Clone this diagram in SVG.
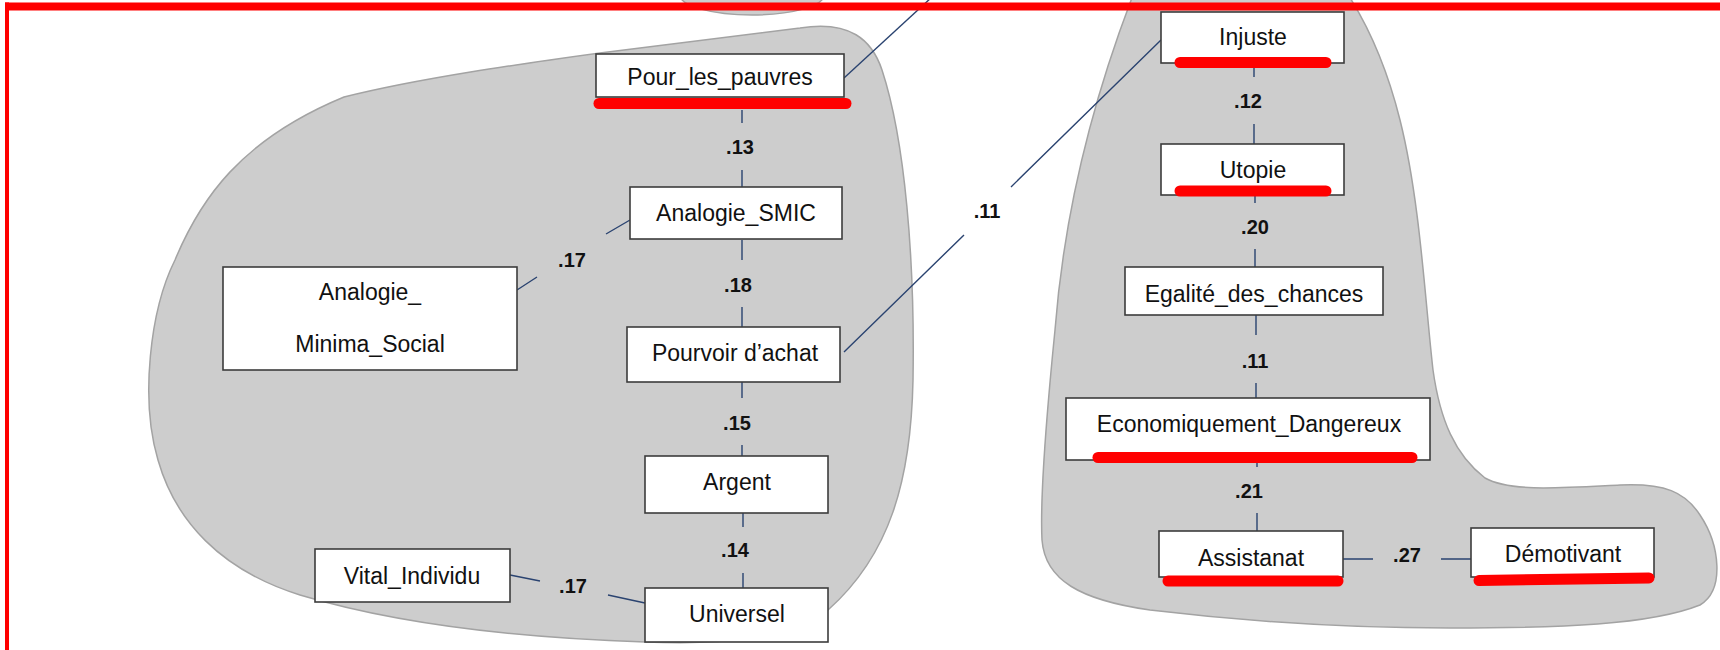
<svg xmlns="http://www.w3.org/2000/svg" width="1720" height="650" viewBox="0 0 1720 650">
<style>
.blob{fill:#cdcdcd;stroke:#a3a3a3;stroke-width:1.5}
.box{fill:#ffffff;stroke:#3c3c3c;stroke-width:1.6}
.t{font-family:"Liberation Sans",Arial,sans-serif;font-size:23px;fill:#111;text-anchor:middle}
.lbl{font-family:"Liberation Sans",Arial,sans-serif;font-size:20px;font-weight:bold;fill:#111;text-anchor:middle}
.c{stroke:#2a4370;stroke-width:1.4;fill:none}
.ul{stroke:#ff0000;stroke-width:11;stroke-linecap:round;fill:none}
.frame{fill:#ff0000}
</style>
<rect width="1720" height="650" fill="#ffffff"/>
<g id="clusters">
<ellipse class="blob" cx="752" cy="-5" rx="72" ry="20"/>
<path class="blob" d="M 344,97 C 420,78 520,64 600,53 L 800,28 C 850,20 872,40 882,70 C 905,140 915,260 913,380 C 911,480 890,555 828,610 C 790,640 720,645 645,642 C 520,638 400,625 300,595 C 220,570 175,520 158,460 C 140,400 150,310 175,260 C 200,200 240,140 344,97 Z"/>
<path class="blob" d="M 1135,-10 C 1100,80 1065,200 1055,330 C 1045,430 1040,500 1042,540 C 1045,580 1080,600 1150,610 C 1250,622 1350,628 1450,628 C 1560,628 1650,625 1700,605 C 1725,590 1720,545 1700,515 C 1685,492 1665,483 1620,485 C 1560,488 1510,492 1485,478 C 1455,455 1440,420 1433,370 C 1425,300 1420,200 1400,120 C 1385,60 1365,20 1345,-10 Z"/>
</g>
<g id="connectors">
<path class="c" d="M 844,78 L 932,-3"/>
<path class="c" d="M 742,110 V 123 M 742,170 V 187"/>
<text class="lbl" x="740" y="154">.13</text>
<path class="c" d="M 630,220 L 606,234 M 537,277 L 517,290"/>
<text class="lbl" x="572" y="267">.17</text>
<path class="c" d="M 742,240 V 260 M 742,307 V 327"/>
<text class="lbl" x="738" y="292">.18</text>
<path class="c" d="M 844,352 L 964,235 M 1011,187 L 1161,40"/>
<text class="lbl" x="987" y="218">.11</text>
<path class="c" d="M 742,382 V 398 M 742,445 V 456"/>
<text class="lbl" x="737" y="430">.15</text>
<path class="c" d="M 743,513 V 527 M 743,573 V 588"/>
<text class="lbl" x="735" y="557">.14</text>
<path class="c" d="M 510,575 L 540,581 M 608,595 L 645,603"/>
<text class="lbl" x="573" y="593">.17</text>
<path class="c" d="M 1254,63 V 77 M 1254,124 V 144"/>
<text class="lbl" x="1248" y="108">.12</text>
<path class="c" d="M 1255,195 V 203 M 1255,249 V 267"/>
<text class="lbl" x="1255" y="234">.20</text>
<path class="c" d="M 1256,315 V 335 M 1256,383 V 398"/>
<text class="lbl" x="1255" y="368">.11</text>
<path class="c" d="M 1257,460 V 467 M 1257,513 V 531"/>
<text class="lbl" x="1249" y="498">.21</text>
<path class="c" d="M 1343,559 H 1373 M 1441,559 H 1471"/>
<text class="lbl" x="1407" y="562">.27</text>
</g>
<g id="node-pour-les-pauvres"><rect class="box" x="596" y="54" width="248" height="43"/><text class="t" x="720" y="85">Pour_les_pauvres</text></g>
<g id="node-analogie-smic"><rect class="box" x="630" y="187" width="212" height="52"/><text class="t" x="736" y="221">Analogie_SMIC</text></g>
<g id="node-analogie-minima"><rect class="box" x="223" y="267" width="294" height="103"/><text class="t" x="370" y="300">Analogie_</text><text class="t" x="370" y="352">Minima_Social</text></g>
<g id="node-pourvoir"><rect class="box" x="627" y="327" width="213" height="55"/><text class="t" x="735" y="361">Pourvoir d’achat</text></g>
<g id="node-argent"><rect class="box" x="645" y="456" width="183" height="57"/><text class="t" x="737" y="490">Argent</text></g>
<g id="node-universel"><rect class="box" x="645" y="588" width="183" height="54"/><text class="t" x="737" y="622">Universel</text></g>
<g id="node-vital"><rect class="box" x="315" y="549" width="195" height="53"/><text class="t" x="412" y="584">Vital_Individu</text></g>
<g id="node-injuste"><rect class="box" x="1161" y="12" width="183" height="51"/><text class="t" x="1253" y="45">Injuste</text></g>
<g id="node-utopie"><rect class="box" x="1161" y="144" width="183" height="51"/><text class="t" x="1253" y="178">Utopie</text></g>
<g id="node-egalite"><rect class="box" x="1125" y="267" width="258" height="48"/><text class="t" x="1254" y="302">Egalité_des_chances</text></g>
<g id="node-economiquement"><rect class="box" x="1066" y="398" width="364" height="62"/><text class="t" x="1249" y="432">Economiquement_Dangereux</text></g>
<g id="node-assistanat"><rect class="box" x="1159" y="531" width="184" height="46"/><text class="t" x="1251" y="566">Assistanat</text></g>
<g id="node-demotivant"><rect class="box" x="1471" y="528" width="183" height="49"/><text class="t" x="1563" y="562">Démotivant</text></g>
<g id="annotations">
<path class="ul" d="M 599,103.5 H 846"/>
<path class="ul" d="M 1180,62.5 H 1326"/>
<path class="ul" d="M 1180,191 H 1326"/>
<path class="ul" d="M 1098,457.5 H 1412"/>
<path class="ul" d="M 1168,581 H 1338"/>
<path class="ul" d="M 1479,580.5 L 1649,578"/>
<rect class="frame" x="5" y="2.5" width="1715" height="8"/>
<rect class="frame" x="5" y="2.5" width="4" height="648"/>
</g>
</svg>
